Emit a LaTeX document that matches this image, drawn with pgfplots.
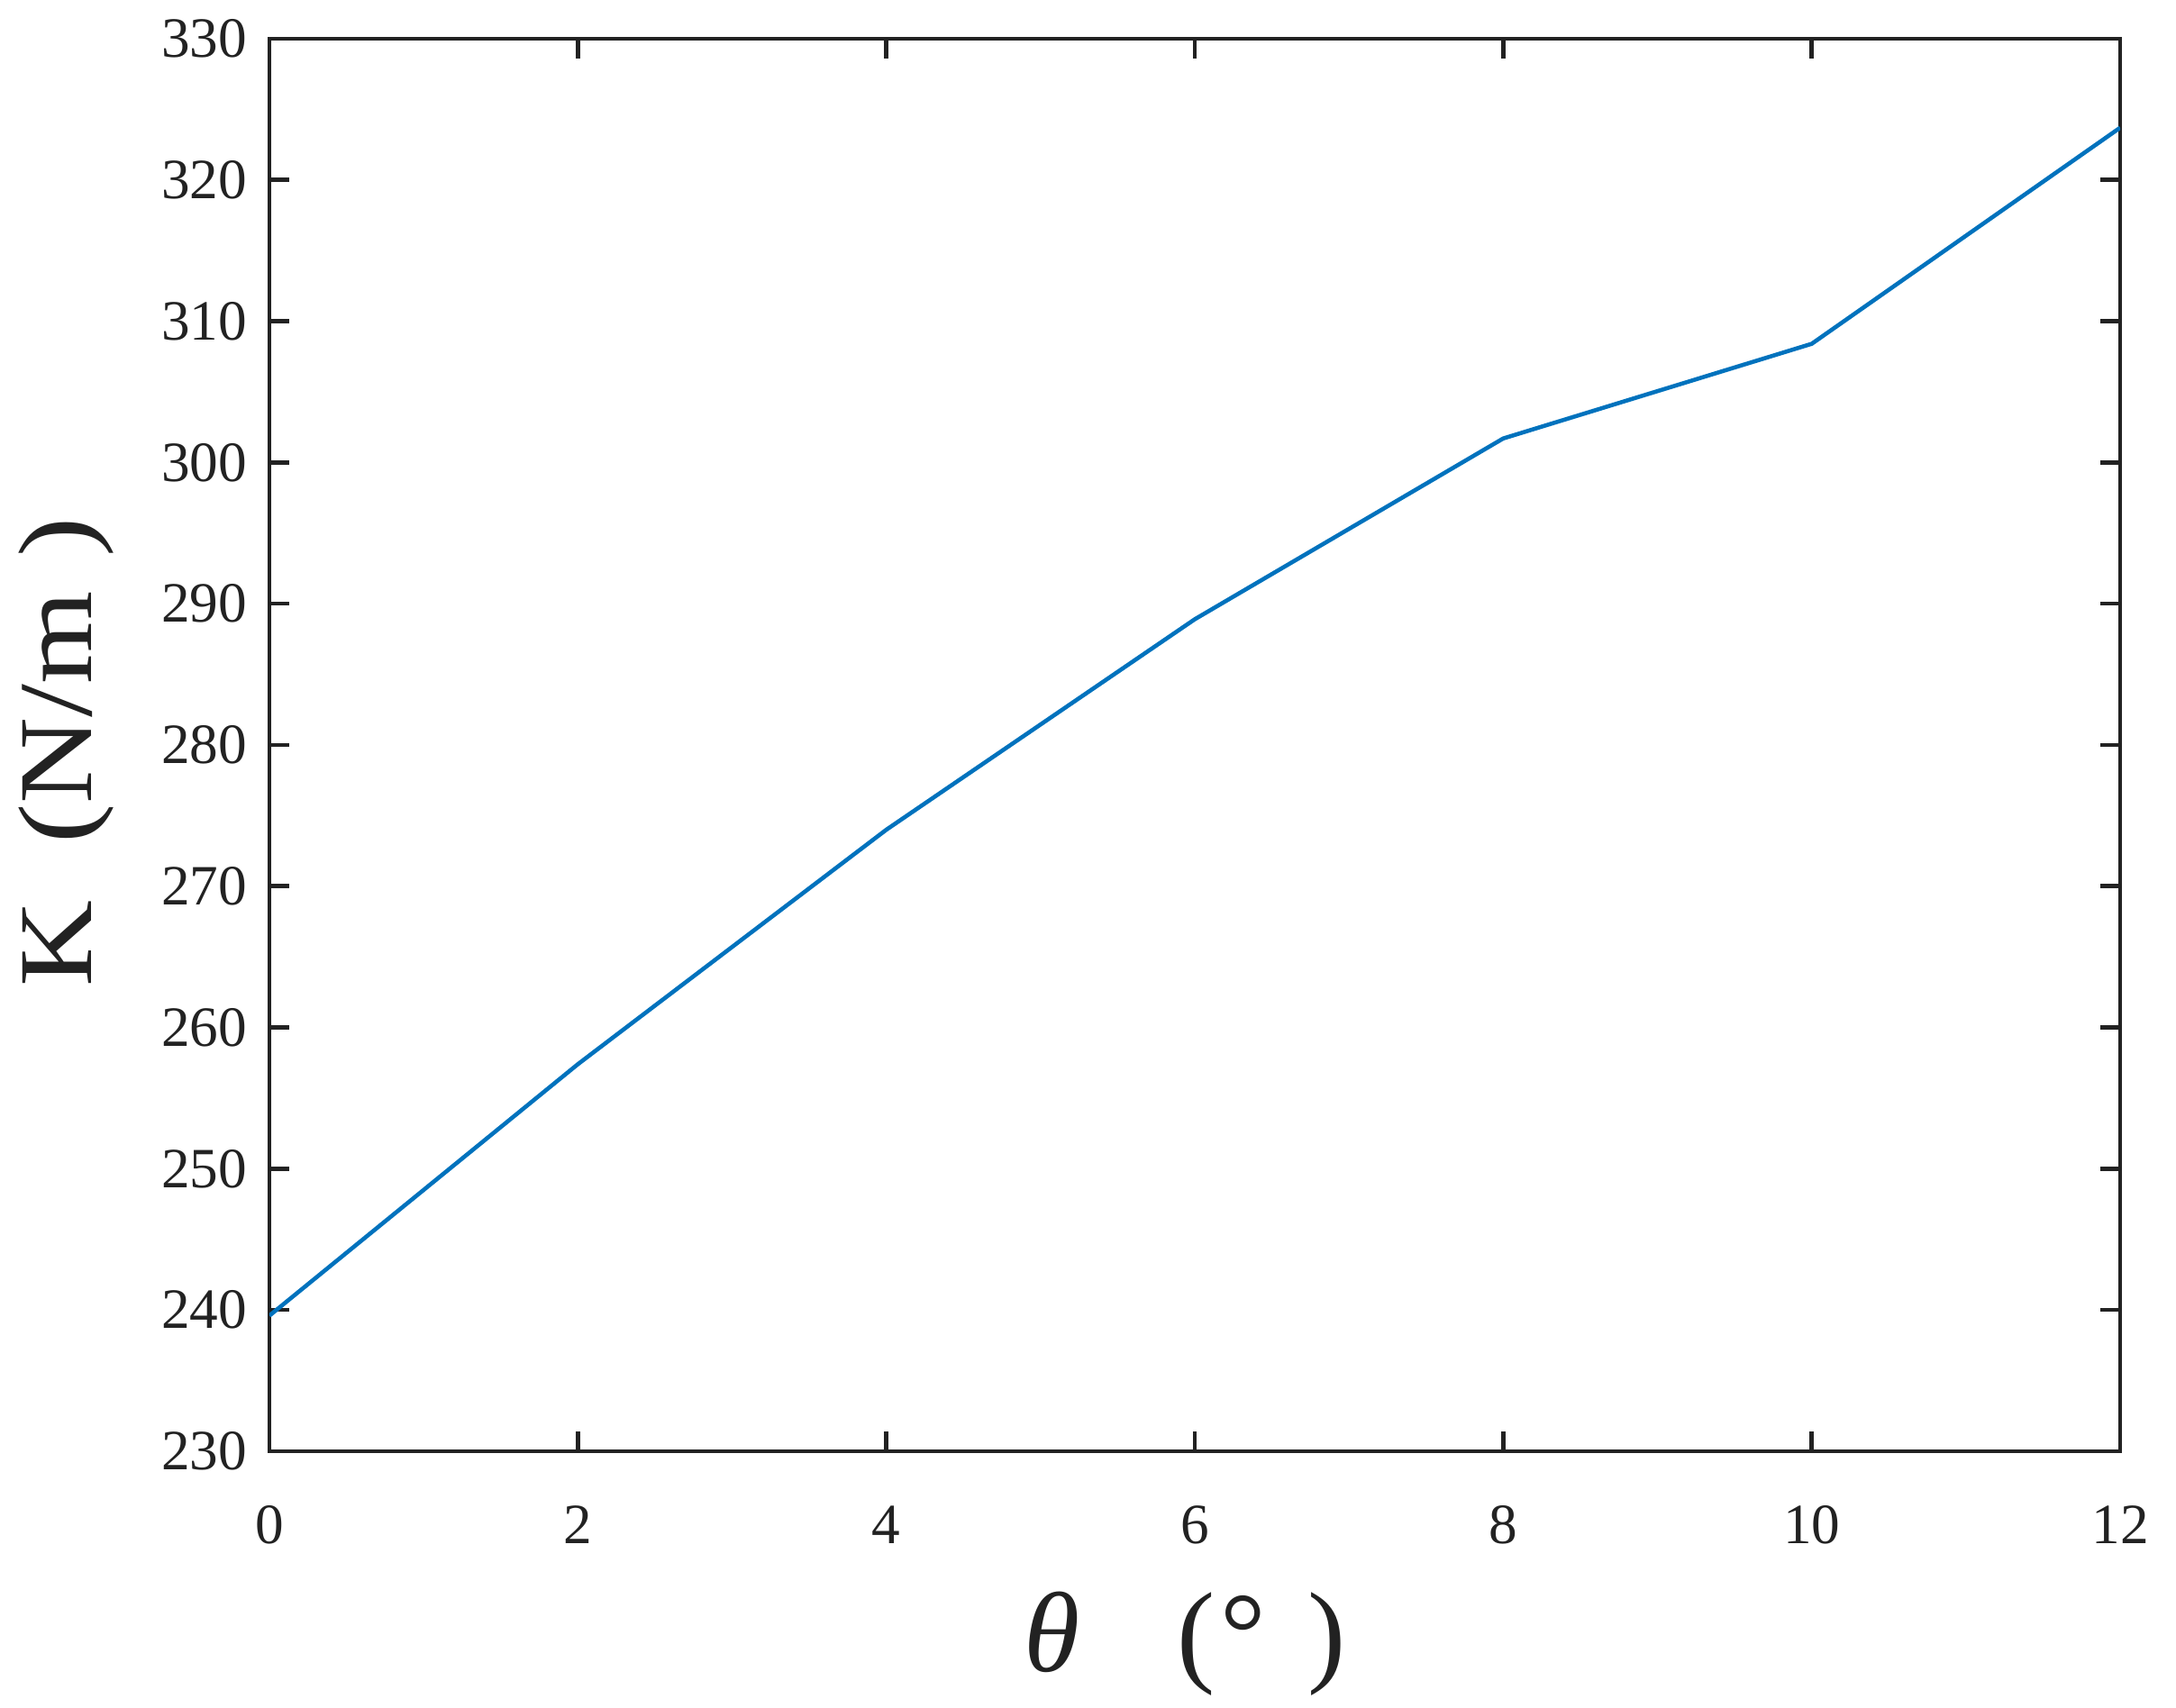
\documentclass[border=0pt]{standalone}
\usepackage{pgfplots}
\pgfplotsset{compat=1.18}
\usepackage{fontspec}
\setmainfont{Liberation Serif}
\definecolor{mblue}{RGB}{0,114,189}
\definecolor{axgray}{RGB}{34,34,34}

\begin{document}
\begin{tikzpicture}
\begin{axis}[
  scale only axis,
  width=102.7mm, height=78.4mm,
  xmin=0, xmax=12, ymin=230, ymax=330,
  xtick={0,2,...,12}, ytick={230,240,...,330},
  tick align=inside, major tick length=1.1mm,
  axis line style={axgray, line width=0.65pt},
  every tick/.style={axgray, line width=0.65pt},
  tick label style={font=\fontsize{9}{10}\selectfont, text=axgray},
  /pgf/number format/assume math mode=true,
  xticklabel style={yshift=-1.8mm},
  xlabel={\textit{θ}\hspace{5.4mm}(\hspace{0.3mm}°\hspace{2.3mm})},
  ylabel={\scalebox{1.05}[0.92]{K\hspace{3mm}(N/m\hspace{1.8mm})}},
  label style={font=\fontsize{18}{20}\selectfont, text=axgray},
  xlabel style={at={(axis description cs:0.5,0)}, anchor=base, yshift=-12.25mm, xshift=-0.55mm},
  ylabel style={at={(axis description cs:0,0.5)}, anchor=center, yshift=11.25mm, xshift=-0.4mm},
]
\addplot[mblue, line width=0.65pt] coordinates {
  (0,239.6) (2,257.4) (4,274.0) (6,288.9) (8,301.7) (10,308.4) (12,323.7)
};
\end{axis}
\pgfresetboundingbox
\path[use as bounding box] ([shift={(-14.95mm,-14.25mm)}]current axis.south west)
  rectangle ([shift={(3.1mm,2.15mm)}]current axis.north east);
\end{tikzpicture}
\end{document}
